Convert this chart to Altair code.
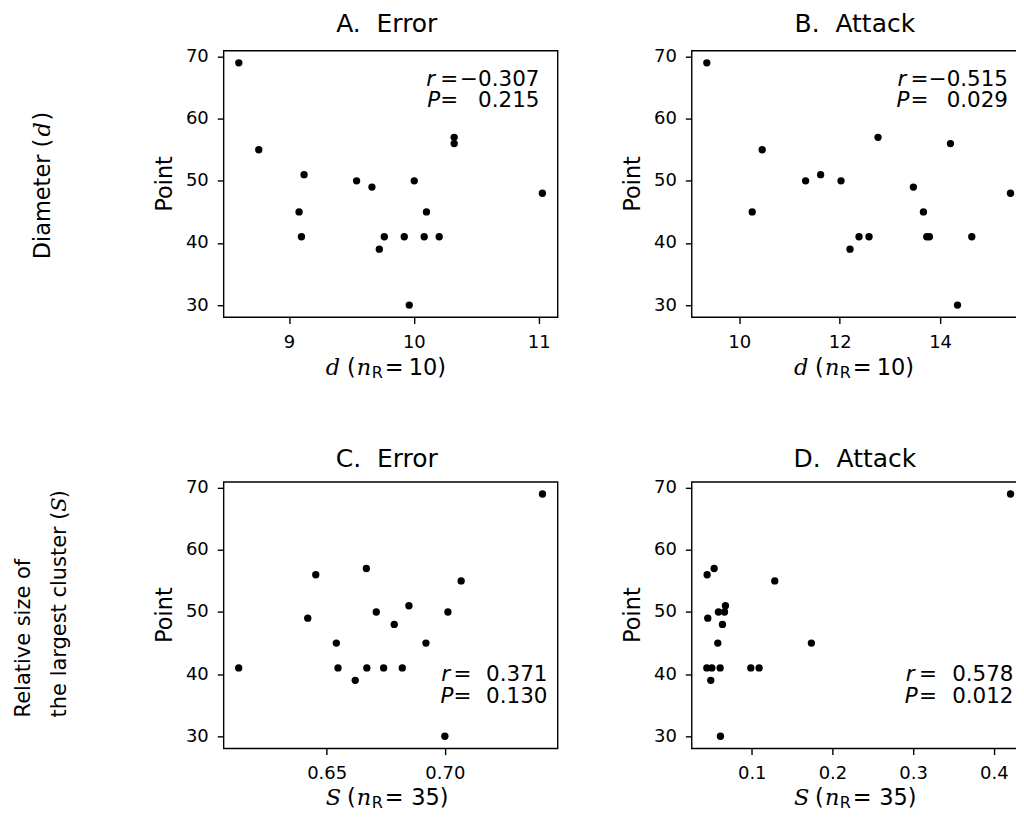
import altair as alt
import pandas as pd

# ---------------- data ----------------
d_error = [8.597, 8.757, 9.120, 9.080, 9.099, 9.541, 9.664, 9.723, 9.763,
           9.923, 9.963, 10.003, 10.083, 10.101, 10.203, 10.323, 10.323, 11.030]
point_d_error = [69, 55, 51, 45, 41, 50, 49, 39, 41, 41, 30, 50, 41, 45, 41, 57, 56, 48]

d_attack = [9.355, 10.259, 10.458, 11.322, 11.621, 12.027, 12.206, 12.385, 12.585,
            12.764, 13.468, 13.668, 13.734, 13.787, 14.206, 14.346, 14.631, 15.402]
point_d_attack = [69, 45, 55, 50, 51, 50, 39, 41, 41, 57, 49, 45, 41, 41, 56, 30, 41, 48]

s_error = [0.6128, 0.6454, 0.6420, 0.6541, 0.6548, 0.6621, 0.6668, 0.6670, 0.6710,
           0.6741, 0.6786, 0.6820, 0.6848, 0.6920, 0.7000, 0.7013, 0.7069, 0.7413]
point_s_error = [41, 56, 49, 45, 41, 39, 57, 41, 50, 41, 48, 41, 51, 45, 30, 50, 55, 69]

s_attack = [0.0447, 0.0534, 0.0455, 0.0443, 0.0505, 0.0492, 0.0587, 0.0662, 0.0674,
            0.0637, 0.0579, 0.0608, 0.0612, 0.0988, 0.1091, 0.1285, 0.1739, 0.4207]
point_s_attack = [56, 57, 49, 41, 41, 39, 50, 50, 51, 48, 45, 41, 30, 41, 41, 55, 45, 69]

panel_titles = ["A.\u00a0\u00a0Error", "B.\u00a0\u00a0Attack", "C.\u00a0\u00a0Error", "D.\u00a0\u00a0Attack"]
r_values = ["\u22120.307", "\u22120.515", "0.371", "0.578"]
p_values = ["0.215", "0.029", "0.130", "0.012"]
y_ticks = [30, 40, 50, 60, 70]

FONT = "DejaVu Sans"
SERIF = "DejaVu Serif"
W = 334.7
H = 267
YDOM = [28.05, 70.95]
one = pd.DataFrame({"k": [0]})


def txt(s, x, y, size=22.5, font=FONT, style=None, align="left", angle=None):
    kw = dict(text=s, font=font, fontSize=size, align=align,
              baseline="alphabetic", color="black")
    if style:
        kw["fontStyle"] = style
    if angle is not None:
        kw["angle"] = angle
    return alt.Chart(one).mark_text(**kw).encode(x=alt.value(x), y=alt.value(y))


def anchor(x, y):
    # invisible point that fixes the outer bounds of the drawing
    return alt.Chart(one).mark_rule(opacity=0, strokeWidth=0).encode(
        x=alt.value(x), x2=alt.value(x), y=alt.value(y), y2=alt.value(y))


def panel(xs, ys, xdom, xticks, xfmt, title, title_y, r_str, p_str,
          ann, ann_y, var, n_str, num_x, xt_off, extra=()):
    df = pd.DataFrame({"v": xs, "p": ys})
    pts = alt.Chart(df).mark_circle(size=54, color="black", opacity=1).encode(
        x=alt.X("v:Q", scale=alt.Scale(domain=xdom, nice=False, zero=False),
                axis=alt.Axis(values=xticks, format=xfmt, title=None, labelPadding=10)),
        y=alt.Y("p:Q", scale=alt.Scale(domain=YDOM, nice=False, zero=False),
                axis=alt.Axis(values=y_ticks, title=None, labelPadding=9)),
    )
    r_right, eq_c, p_right, val_right = ann
    xt = H + xt_off
    layers = [
        pts,
        txt(title, 163.5, title_y, size=25, align="center"),
        txt("Point", -51.5, H / 2, angle=270, align="center"),
        txt("r", r_right, ann_y, size=21.5, style="italic", align="right"),
        txt("=", eq_c, ann_y, size=21.5, align="center"),
        txt(r_str, val_right, ann_y, size=21.5, align="right"),
        txt("P", p_right, ann_y + 21.7, size=21.5, style="italic", align="right"),
        txt("=", eq_c, ann_y + 21.7, size=21.5, align="center"),
        txt(p_str, val_right, ann_y + 21.7, size=21.5, align="right"),
        txt(var, 102.5, xt, font=SERIF, style="italic"),
        txt("(", 123.7, xt),
        txt("n", 133.5, xt, font=SERIF, style="italic"),
        txt("R", 148.5, xt + 3, size=16),
        txt("=", 161.5, xt),
        txt(n_str, num_x, xt),
    ] + list(extra)
    return alt.layer(*layers).properties(width=W, height=H)


row1_label = [
    txt("Diameter (", -174, 209, angle=270),
    txt("d", -174, 86, font=SERIF, style="italic", angle=270),
    txt(")", -174, 70, angle=270),
]
row2_label = [
    txt("Relative size of", -194, 236, size=21, angle=270),
    txt("the largest cluster (", -158, 236, size=21, angle=270),
    txt("S", -158, 30, size=21, font=SERIF, style="italic", angle=270),
    txt(")", -158, 16.5, size=21, angle=270),
]

pA = panel(d_error, point_d_error, [8.475, 11.152], [9, 10, 11], "d",
           panel_titles[0], -18.3, r_values[0], p_values[0],
           (212, 226, 217, 316.5), 35, "d", "10)", 185.5, 58,
           extra=[anchor(-230, -60)] + row1_label)
pB = panel(d_attack, point_d_attack, [9.053, 15.704], [10, 12, 14], "d",
           panel_titles[1], -18.3, r_values[1], p_values[1],
           (215, 228.3, 218.3, 317), 35, "d", "10)", 185.5, 58,
           extra=[anchor(354.3, 0)])
pC = panel(s_error, point_s_error, [0.6064, 0.7477], [0.65, 0.70], ".2f",
           panel_titles[2], -15, r_values[2], p_values[2],
           (227, 239.5, 230.3, 324.5), 200, "S", "35)", 188, 57,
           extra=[anchor(0, H + 100)] + row2_label)
pD = panel(s_attack, point_s_attack, [0.0255, 0.4395], [0.1, 0.2, 0.3, 0.4], ".1f",
           panel_titles[3], -15, r_values[3], p_values[3],
           (223.3, 236.7, 226.6, 322.5), 200, "S", "35)", 188, 57)

chart = alt.concat(pA, pB, pC, pD, columns=2,
                   spacing={"row": 165, "column": 134}, bounds="flush").properties(
    padding={"left": -15, "top": -19, "right": -30, "bottom": -39},
    background="white"
).configure_view(
    stroke="black", strokeWidth=1.4
).configure_axis(
    domain=False, grid=False, tickColor="black", tickWidth=1.4, tickSize=6.3,
    labelFont=FONT, labelFontSize=18, labelColor="black"
)

chart.save("out.html", embed_options={"renderer": "svg", "actions": False})
